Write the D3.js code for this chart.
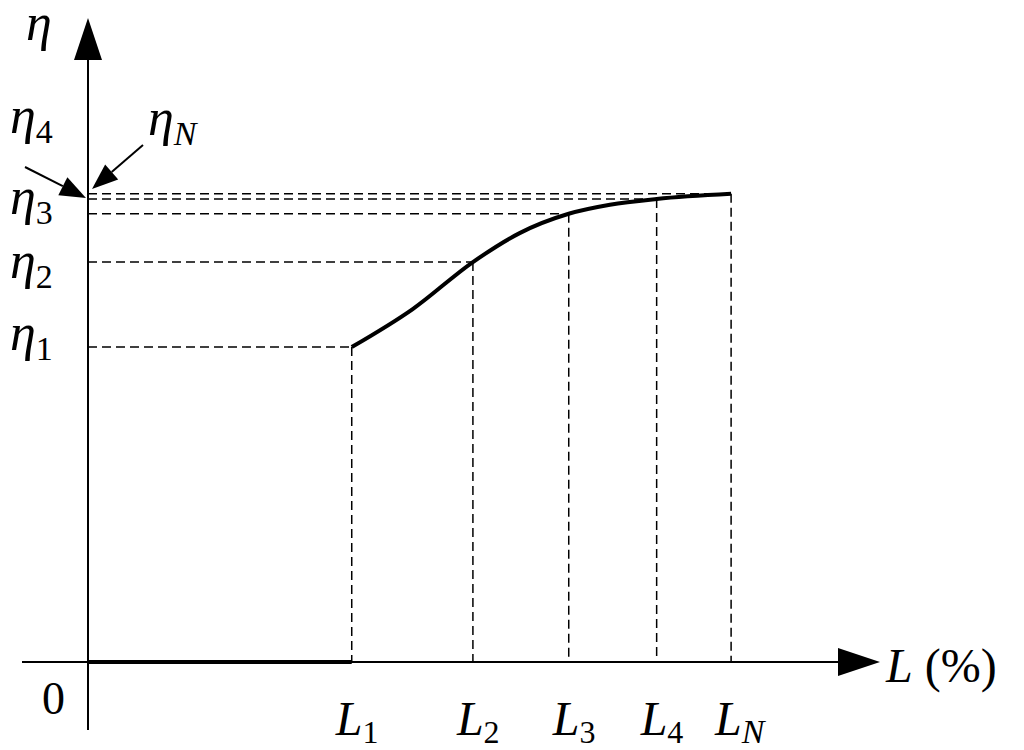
<!DOCTYPE html>
<html><head><meta charset="utf-8">
<script src="https://cdn.jsdelivr.net/npm/d3@7"></script>
<style>body{margin:0;background:#fff}text{font-family:"Liberation Serif","Times New Roman",serif}</style>
</head><body><svg id="c" width="1024" height="750"></svg>
<script>
// levels on the L axis (% of range) and efficiencies
var levelNames = ["1", "2", "3", "4", "N"];
var levelL = [33.3, 48.6, 60.7, 71.8, 81.2];
var levelEta = [0.489, 0.621, 0.696, 0.719, 0.727];
// efficiency curve samples
var curveL = [33.3, 41.0, 48.6, 54.5, 60.7, 65.9, 71.8, 81.2];
var curveEta = [0.489, 0.548, 0.621, 0.666, 0.696, 0.710, 0.719, 0.727];

var svg = d3.select("#c");
var x = d3.scaleLinear().domain([0, 100]).range([88, 880]);
var y = d3.scaleLinear().domain([0, 1]).range([662, 18]);

// axes
svg.append("line").attr("x1", 22).attr("x2", 845).attr("y1", y(0)).attr("y2", y(0)).attr("stroke", "#000").attr("stroke-width", 2);
svg.append("line").attr("x1", x(0)).attr("x2", x(0)).attr("y1", 730).attr("y2", 55).attr("stroke", "#000").attr("stroke-width", 2);
svg.append("path").attr("d", "M880,662 L838,648 L838,676 Z");
svg.append("path").attr("d", "M88,18 L74,60 L102,60 Z");

// dashed guides
levelL.forEach(function (l, i) {
  svg.append("line").attr("x1", x(0)).attr("x2", x(l)).attr("y1", y(levelEta[i])).attr("y2", y(levelEta[i]))
    .attr("stroke", "#000").attr("stroke-width", 1.5).attr("stroke-dasharray", "9,5");
  svg.append("line").attr("x1", x(l)).attr("x2", x(l)).attr("y1", y(levelEta[i])).attr("y2", y(0))
    .attr("stroke", "#000").attr("stroke-width", 1.5).attr("stroke-dasharray", "9,5");
  var t = svg.append("text").attr("x", x(l) - 16).attr("y", 735).attr("font-size", 48);
  t.append("tspan").attr("font-style", "italic").text("L");
  t.append("tspan").attr("font-size", levelNames[i] == "N" ? 34 : 32).attr("dy", 8)
    .attr("font-style", levelNames[i] == "N" ? "italic" : "normal").text(levelNames[i]);
});

// curve and zero segment
svg.append("line").attr("x1", x(0)).attr("x2", x(levelL[0])).attr("y1", y(0)).attr("y2", y(0)).attr("stroke", "#000").attr("stroke-width", 4);
var pts = curveL.map(function (l, i) { return [l, curveEta[i]]; });
svg.append("path").attr("d", d3.line().x(function (d) { return x(d[0]); }).y(function (d) { return y(d[1]); }).curve(d3.curveMonotoneX)(pts))
  .attr("fill", "none").attr("stroke", "#000").attr("stroke-width", 4);

// eta labels
function eta(px, py, sub, italicSub) {
  var t = svg.append("text").attr("x", px).attr("y", py).attr("font-size", 52).attr("font-style", "italic");
  t.append("tspan").text("η");
  if (sub) t.append("tspan").attr("font-size", 34).attr("dy", 10).attr("font-style", italicSub ? "italic" : "normal").text(sub);
}
eta(26, 40, "");
eta(10, 133, "4");
eta(148, 135, "N", true);
eta(10, 214, "3");
eta(10, 278, "2");
eta(10, 350, "1");

// pointer arrows
function arrow(x1, y1, x2, y2) {
  var a = Math.atan2(y2 - y1, x2 - x1), len = 26, w = 10;
  var bx = x2 - len * Math.cos(a), by = y2 - len * Math.sin(a);
  svg.append("line").attr("x1", x1).attr("y1", y1).attr("x2", bx).attr("y2", by).attr("stroke", "#000").attr("stroke-width", 2);
  svg.append("path").attr("d", "M" + x2 + "," + y2 + " L" + (bx + w * Math.sin(a)) + "," + (by - w * Math.cos(a)) + " L" + (bx - w * Math.sin(a)) + "," + (by + w * Math.cos(a)) + " Z");
}
arrow(143, 145, 92, 189);
arrow(25, 167, 86, 198);

svg.append("text").attr("x", 42).attr("y", 714).attr("font-size", 46).text("0");
var lt = svg.append("text").attr("x", 886).attr("y", 682).attr("font-size", 48);
lt.append("tspan").attr("font-style", "italic").text("L");
lt.append("tspan").text(" (%)");
</script></body></html>
